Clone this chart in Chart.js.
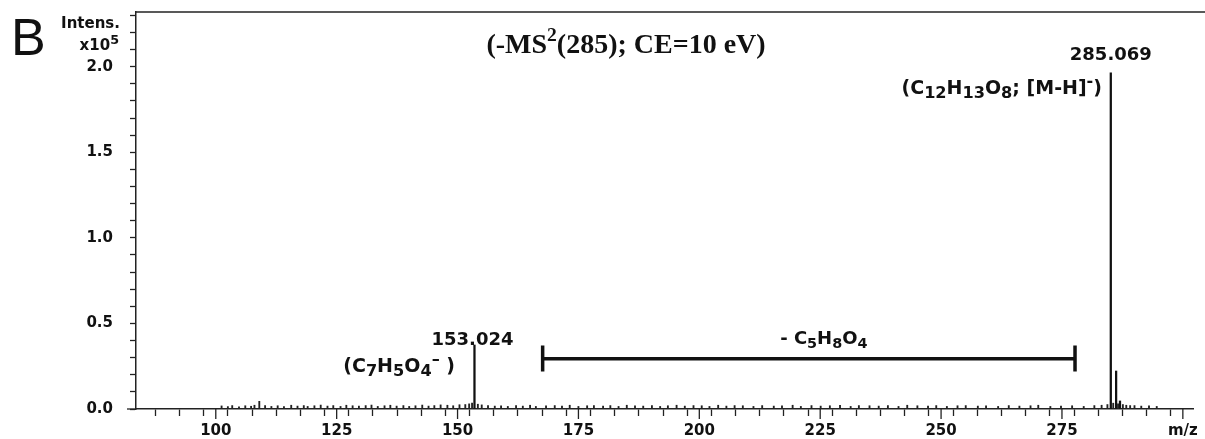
<!DOCTYPE html>
<html><head><meta charset="utf-8">
<script src="https://cdn.jsdelivr.net/npm/chart.js@4/dist/chart.umd.min.js"></script>
<style>html,body{margin:0;padding:0;background:#fff;}#wrap{position:relative;width:1205px;height:439px;}</style>
</head><body><div id="wrap"><canvas id="c" width="1205" height="439"></canvas></div>
<script>
// ---- data ----
const mzPeaks = [153.5, 285.1, 286.2, 287.0];
const intensPeaks = [0.374, 1.965, 0.222, 0.047];
const noiseMz = [
 101.2,102.5,103.4,104.8,106.1,107.3,108.0,109.0,110.2,111.5,
 112.8,114.1,115.6,116.9,118.2,119.0,120.4,121.7,123.1,124.3,
 125.8,127.0,128.3,129.6,131.0,132.2,133.5,134.9,136.1,137.4,
 138.8,140.0,141.3,142.7,144.0,145.2,146.5,147.9,149.1,150.4,
 151.6,152.4,153.0,154.2,155.0,156.3,157.7,159.0,160.4,162.1,
 163.5,165.0,166.2,168.3,170.1,171.6,173.2,175.0,176.8,178.2,
 180.1,181.6,183.3,185.0,186.7,188.4,190.2,191.9,193.5,195.3,
 197.0,198.8,200.5,202.1,203.9,205.6,207.3,209.0,211.2,213.0,
 215.4,217.1,219.3,221.0,223.2,225.1,227.0,229.1,231.3,233.0,
 235.2,237.1,239.0,241.2,243.0,245.1,247.3,249.0,251.2,253.4,
 255.1,257.6,259.3,261.8,264.0,266.2,268.5,270.1,272.6,274.8,
 277.1,279.5,281.7,283.2,284.4,285.6,286.6,287.6,288.3,289.1,
 290.0,291.4,293.0,294.6];
const noiseIntens = [
 0.018,0.014,0.020,0.012,0.019,0.016,0.022,0.045,0.020,0.015,
 0.019,0.014,0.022,0.017,0.020,0.015,0.019,0.023,0.017,0.020,
 0.015,0.022,0.019,0.017,0.020,0.023,0.015,0.019,0.022,0.017,
 0.020,0.015,0.019,0.023,0.017,0.020,0.024,0.022,0.019,0.025,
 0.026,0.030,0.034,0.028,0.024,0.020,0.017,0.019,0.015,0.020,
 0.017,0.022,0.015,0.019,0.020,0.017,0.022,0.015,0.019,0.020,
 0.017,0.020,0.015,0.022,0.019,0.017,0.020,0.015,0.019,0.022,
 0.017,0.020,0.019,0.015,0.022,0.017,0.020,0.019,0.015,0.020,
 0.017,0.019,0.022,0.015,0.020,0.017,0.019,0.022,0.015,0.020,
 0.019,0.017,0.020,0.015,0.022,0.019,0.017,0.020,0.015,0.019,
 0.020,0.017,0.019,0.015,0.020,0.017,0.019,0.022,0.015,0.017,
 0.019,0.015,0.020,0.022,0.026,0.034,0.030,0.026,0.022,0.020,
 0.020,0.017,0.019,0.015];
const xRange = [83.5, 302.1];
const yRange = [0, 2.32];
const xStep = 5, xMajor = 25, yStep = 0.1, yMajor = 0.5;
const xAxisEndLabel = 'm/z';
const bracketMz = [167.6, 277.7];
const bracketLevel = 0.294;
const bracketCap = [0.219, 0.371];
const peakLabels = ['153.024', '285.069'];
const titleParts = [['(-MS',0],['2',2],['(285); CE=10 eV)',0]];
const ionLabel285 = [['(C',0],['12',1],['H',0],['13',1],['O',0],['8',1],['; [M-H]',0],['-',2],[')',0]];
const ionLabel153 = [['(C',0],['7',1],['H',0],['5',1],['O',0],['4',1],['\u2013',2],[' )',0]];
const lossLabel = [['- C',0],['5',1],['H',0],['8',1],['O',0],['4',1]];
const yAxisTitle = ['Intens.', 'x10', '5'];
const panelLetter = 'B';

const SANS = '"DejaVu Sans"';
const INK = '#111';

function drawRich(ctx, segs, x, y, align, size, family, weight, subScale) {
  subScale = subScale || 0.72;
  const fontFor = k => weight + ' ' + (k ? size*subScale : size) + 'px ' + family;
  let total = 0;
  const widths = segs.map(([t,k]) => { ctx.font = fontFor(k); const w = ctx.measureText(t).width; total += w; return w; });
  let cx = align === 'right' ? x - total : align === 'center' ? x - total/2 : x;
  ctx.textAlign = 'left'; ctx.textBaseline = 'alphabetic';
  segs.forEach(([t,k], i) => {
    ctx.font = fontFor(k);
    const dy = k === 1 ? size*0.22 : k === 2 ? -size*0.42 : 0;
    ctx.fillText(t, cx, y + dy);
    cx += widths[i];
  });
}

const decor = {
  id: 'decor',
  afterDraw(chart) {
    const {ctx, chartArea: a, scales: {x, y}} = chart;
    ctx.save();
    ctx.strokeStyle = '#222'; ctx.lineWidth = 1.5;
    ctx.beginPath(); ctx.moveTo(a.left, a.top); ctx.lineTo(1205, a.top); ctx.stroke();
    ctx.lineWidth = 1.3;
    x.ticks.forEach(t => {
      if (Math.abs(t.value % xMajor) < 1e-6) {
        const px = x.getPixelForValue(t.value);
        ctx.beginPath(); ctx.moveTo(px, a.bottom); ctx.lineTo(px, a.bottom + 10); ctx.stroke();
      }
    });
    ctx.beginPath(); ctx.moveTo(a.left - 9, a.bottom); ctx.lineTo(a.left, a.bottom); ctx.stroke();
    ctx.fillStyle = INK;
    ctx.font = 'normal 52px "Liberation Sans"'; ctx.textAlign = 'left'; ctx.textBaseline = 'alphabetic';
    ctx.fillText(panelLetter, 11, 55);
    ctx.font = 'bold 15px ' + SANS; ctx.textAlign = 'right';
    ctx.fillText(yAxisTitle[0], 120, 28);
    drawRich(ctx, [[yAxisTitle[1],0],[yAxisTitle[2],2]], 119, 50, 'right', 15, SANS, 'bold', 0.85);
    drawRich(ctx, titleParts, 626, 53, 'center', 28, '"Liberation Serif"', 'bold', 0.7);
    ctx.font = 'bold 18px ' + SANS; ctx.textAlign = 'center';
    ctx.fillText(peakLabels[1], x.getPixelForValue(mzPeaks[1]), 60);
    ctx.fillText(peakLabels[0], x.getPixelForValue(mzPeaks[0]) - 2, 345);
    drawRich(ctx, ionLabel285, 1102, 94, 'right', 19, SANS, 'bold', 0.85);
    drawRich(ctx, ionLabel153, 455, 372, 'right', 19, SANS, 'bold', 0.85);
    drawRich(ctx, lossLabel, (x.getPixelForValue(bracketMz[0]) + x.getPixelForValue(bracketMz[1]))/2 + 15, 344, 'center', 18, SANS, 'bold', 0.8);
    ctx.restore();
  }
};

const tickFont = {family: 'DejaVu Sans', weight: 'bold', size: 15};

new Chart(document.getElementById('c'), {
  type: 'bar',
  data: {
    datasets: [
      { data: noiseMz.map((m,i) => ({x: m, y: noiseIntens[i]})), backgroundColor: '#222', barThickness: 1.2, grouped: false, order: 3 },
      { data: mzPeaks.map((m,i) => ({x: m, y: intensPeaks[i]})), backgroundColor: INK, barThickness: 1.6, grouped: false, order: 2 },
      { type: 'line', data: bracketMz.map(m => ({x: m, y: bracketLevel})), borderColor: INK, borderWidth: 3.5, pointRadius: 0, borderCapStyle: 'butt', order: 1 },
      { type: 'line', data: [
          {x: bracketMz[0], y: bracketCap[0]}, {x: bracketMz[0], y: bracketCap[1]},
          {x: (bracketMz[0]+bracketMz[1])/2, y: null},
          {x: bracketMz[1], y: bracketCap[0]}, {x: bracketMz[1], y: bracketCap[1]}],
        borderColor: INK, borderWidth: 3.5, pointRadius: 0, spanGaps: false, borderCapStyle: 'butt', order: 1 }
    ]
  },
  options: {
    responsive: false, animation: false, devicePixelRatio: 1,
    layout: {autoPadding: false, padding: {top: 12, right: 12, left: 0, bottom: 0}},
    plugins: {legend: {display: false}, tooltip: {enabled: false}},
    scales: {
      x: {
        type: 'linear', min: xRange[0], max: xRange[1], offset: false,
        afterFit: s => { s.height = 30; s.paddingLeft = 0; s.paddingRight = 0; s.paddingTop = 0; s.paddingBottom = 0; },
        border: {display: true, color: '#222', width: 1.5},
        grid: {drawOnChartArea: false, drawTicks: true, tickLength: 7, color: '#222', tickWidth: 1.3},
        ticks: {
          stepSize: xStep, includeBounds: false, autoSkip: false, maxRotation: 0, minRotation: 0,
          color: INK, font: tickFont, padding: 6,
          callback: v => Math.abs(v % xMajor) < 1e-6 ? (v === 300 ? xAxisEndLabel : String(v)) : ''
        }
      },
      y: {
        type: 'linear', min: yRange[0], max: yRange[1],
        afterFit: s => { s.width = 136; s.paddingTop = 0; s.paddingBottom = 0; s.paddingLeft = 0; s.paddingRight = 0; },
        border: {display: true, color: '#222', width: 1.5},
        grid: {drawOnChartArea: false, drawTicks: true, tickLength: 6, color: '#222', tickWidth: 1.3},
        ticks: {
          stepSize: yStep, includeBounds: false, autoSkip: false, color: INK, font: tickFont, padding: 17,
          callback: v => Math.abs(Math.round(v*10) % 5) === 0 ? v.toFixed(1) : ''
        }
      }
    }
  },
  plugins: [decor]
});
</script>
</body></html>
